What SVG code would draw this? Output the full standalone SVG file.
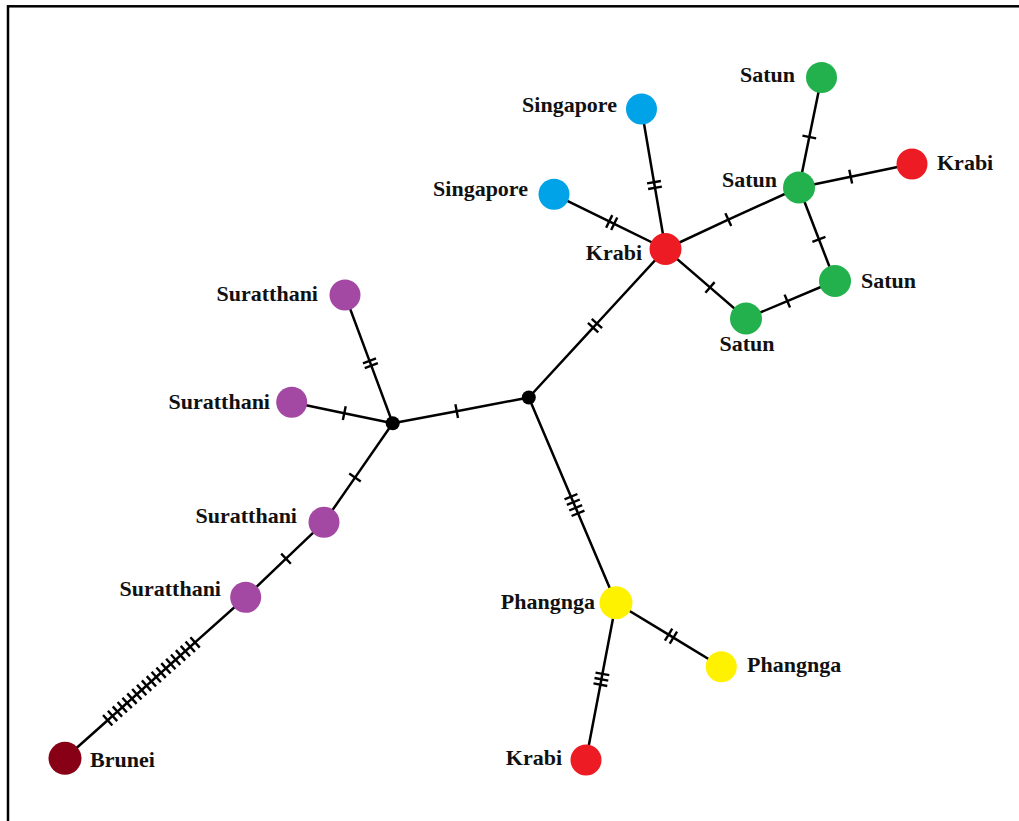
<svg xmlns="http://www.w3.org/2000/svg" width="1019" height="821" viewBox="0 0 1019 821">
  <style>
    .edge { fill: none; stroke: #000; stroke-width: 2.5; marker-mid: url(#tick); }
    .lbl { font-family: "Liberation Serif", "Times New Roman", serif; font-weight: bold; font-size: 22px; fill: #111; }
    .end { text-anchor: end; }
    .mid { text-anchor: middle; }
    .krabi { fill: #ed1c24; }
    .satun { fill: #22b14c; }
    .sing { fill: #00a2e8; }
    .surat { fill: #a349a4; }
    .phang { fill: #fff200; }
    .brunei { fill: #880015; }
    .mv { fill: #000; }
  </style>
  <defs>
    <!-- one mutation tick, drawn across the line at each interior vertex -->
    <marker id="tick" markerUnits="userSpaceOnUse" viewBox="-8 -8 16 16" markerWidth="16" markerHeight="16" refX="0" refY="0" orient="auto" overflow="visible">
      <path d="M0,-7 L0,7" stroke="#000" stroke-width="2.4" fill="none"/>
    </marker>
  </defs>

  <rect x="8" y="6.3" width="1100" height="900" fill="none" stroke="#000" stroke-width="2.5"/>

  <g id="connectors">
    <polyline class="edge" points="665.5,249 655.0,187.8 654.0,182.2 641.5,109"/>
    <polyline class="edge" points="665.5,249 614.2,223.8 609.2,221.4 554,194.3"/>
    <polyline class="edge" points="665.5,249 728.3,219.6 799,187.5"/>
    <polyline class="edge" points="799,187.5 809.3,137 821.5,77.5"/>
    <polyline class="edge" points="799,187.5 850.7,176.7 912,164"/>
    <polyline class="edge" points="799,187.5 818.9,239.3 835,281"/>
    <polyline class="edge" points="665.5,249 710,287.4 746,318.5"/>
    <polyline class="edge" points="746,318.5 787.3,301.1 835,281"/>
    <polyline class="edge" points="665.5,249 596.9,323.5 593.1,327.7 528.8,397.5"/>
    <polyline class="edge" points="528.8,397.5 456.7,411.2 392.7,423.3"/>
    <polyline class="edge" points="392.7,423.3 371.3,365.6 369.5,360.9 345,295"/>
    <polyline class="edge" points="392.7,423.3 344.3,413.2 291.7,402.3"/>
    <polyline class="edge" points="392.7,423.3 355,477.6 324,522.3"/>
    <polyline class="edge" points="324,522.3 286,558.7 245.7,597.3"/>
    <polyline class="edge" points="245.7,597.3 195.07,642.41 190.22,646.73 185.36,651.06 180.51,655.38 175.65,659.71 170.80,664.03 165.94,668.35 161.09,672.68 156.24,677.00 151.38,681.32 146.53,685.65 141.67,689.97 136.82,694.30 131.96,698.62 127.11,702.94 122.26,707.27 117.40,711.59 112.55,715.91 107.69,720.24 65,758.3"/>
    <polyline class="edge" points="528.8,397.5 570.98,496.72 573.33,502.24 575.67,507.76 578.02,513.28 616,602.7"/>
    <polyline class="edge" points="616,602.7 668.6,634.6 673.4,637.6 721.3,666.7"/>
    <polyline class="edge" points="616,602.7 602.4,673.9 601.4,679.3 600.4,684.7 586,760"/>
  </g>

  <g id="mv1"><circle class="mv" cx="528.8" cy="397.5" r="7"/></g>
  <g id="mv2"><circle class="mv" cx="392.7" cy="423.3" r="7"/></g>

  <g id="krabi-hub"><circle class="krabi" cx="665.5" cy="249" r="16"/><text class="lbl end" x="642" y="260">Krabi</text></g>
  <g id="singapore-top"><circle class="sing" cx="641.5" cy="109" r="15.5"/><text class="lbl end" x="617" y="112">Singapore</text></g>
  <g id="singapore-left"><circle class="sing" cx="554" cy="194.3" r="15.5"/><text class="lbl end" x="528" y="196">Singapore</text></g>
  <g id="satun-hub"><circle class="satun" cx="799" cy="187.5" r="16"/><text class="lbl end" x="777" y="187">Satun</text></g>
  <g id="satun-top"><circle class="satun" cx="821.5" cy="77.5" r="15.5"/><text class="lbl end" x="795" y="82">Satun</text></g>
  <g id="krabi-right"><circle class="krabi" cx="912" cy="164" r="15.5"/><text class="lbl" x="937" y="170">Krabi</text></g>
  <g id="satun-right"><circle class="satun" cx="835" cy="281" r="16"/><text class="lbl" x="861" y="288">Satun</text></g>
  <g id="satun-bottom"><circle class="satun" cx="746" cy="318.5" r="16"/><text class="lbl mid" x="747" y="351">Satun</text></g>
  <g id="suratthani-1"><circle class="surat" cx="345" cy="295" r="15.5"/><text class="lbl end" x="318" y="301">Suratthani</text></g>
  <g id="suratthani-2"><circle class="surat" cx="291.7" cy="402.3" r="15.5"/><text class="lbl end" x="270" y="409">Suratthani</text></g>
  <g id="suratthani-3"><circle class="surat" cx="324" cy="522.3" r="15.5"/><text class="lbl end" x="297" y="523">Suratthani</text></g>
  <g id="suratthani-4"><circle class="surat" cx="245.7" cy="597.3" r="15.5"/><text class="lbl end" x="221" y="596">Suratthani</text></g>
  <g id="brunei"><circle class="brunei" cx="65" cy="758.3" r="16.5"/><text class="lbl" x="90" y="767">Brunei</text></g>
  <g id="phangnga-hub"><circle class="phang" cx="616" cy="602.7" r="16.5"/><text class="lbl end" x="595" y="609">Phangnga</text></g>
  <g id="phangnga-right"><circle class="phang" cx="721.3" cy="666.7" r="15.5"/><text class="lbl" x="747" y="672">Phangnga</text></g>
  <g id="krabi-bottom"><circle class="krabi" cx="586" cy="760" r="15.5"/><text class="lbl end" x="562" y="765">Krabi</text></g>
</svg>
